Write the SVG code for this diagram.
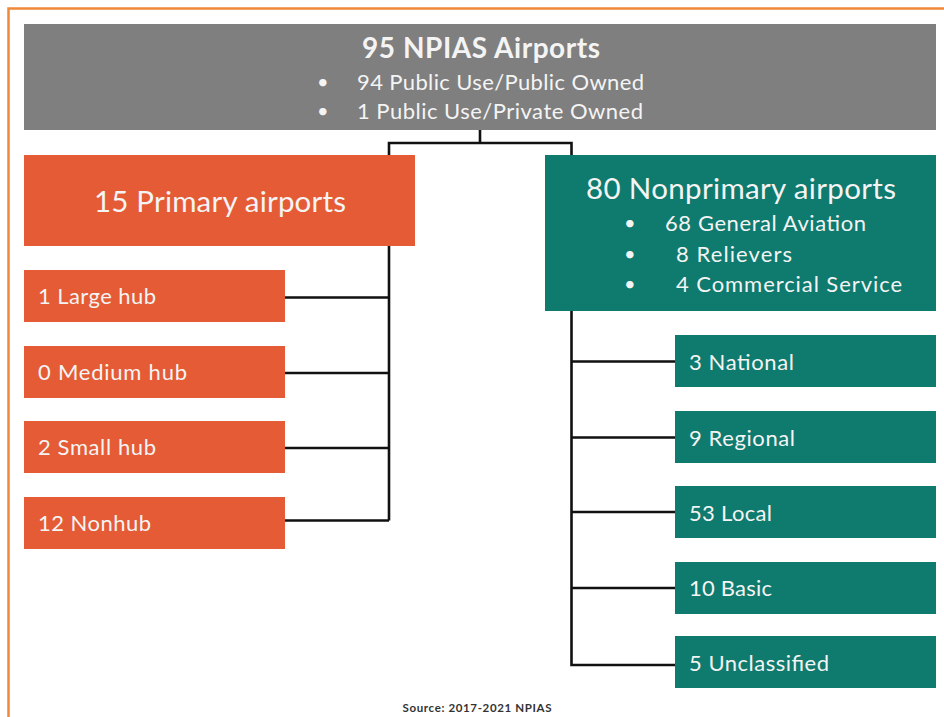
<svg xmlns="http://www.w3.org/2000/svg" width="944" height="717" viewBox="0 0 944 717">
<style>
.t{font-family:Lato,"Open Sans","Liberation Sans",sans-serif;fill:#F4F4F4}
.orange{fill:#E55B35}
.teal{fill:#0F7A6E}
.conn{fill:none;stroke:#111111;stroke-width:2.6}
</style>
<rect width="944" height="717" fill="#FFFFFF"/>
<path d="M8.5 717 V8.5 H944" fill="none" stroke="#F0883A" stroke-width="2.5"/>
<g id="connectors">
<path class="conn" d="M480 130 V143 M389 155 V143 H571.5 V155"/>
<path class="conn" d="M389 246 V520.5 M285 297.5 H389 M285 373 H389 M285 448 H389 M285 520.5 H389"/>
<path class="conn" d="M571.5 311 V665 H675 M571.5 361.5 H675 M571.5 437.5 H675 M571.5 512 H675 M571.5 588 H675"/>
</g>
<g id="npias">
<rect x="24" y="24" width="912" height="106" fill="#7F7F7F"/>
<text class="t" x="481" y="58" font-size="28" font-weight="bold" text-anchor="middle" textLength="238">95 NPIAS Airports</text>
<text class="t" x="317" y="89" font-size="20">•</text>
<text class="t" x="357" y="90" font-size="22" textLength="287">94 Public Use/Public Owned</text>
<text class="t" x="317" y="118" font-size="20">•</text>
<text class="t" x="357" y="119" font-size="22" textLength="286">1 Public Use/Private Owned</text>
</g>
<g id="primary">
<rect class="orange" x="24" y="155" width="391" height="91"/>
<text class="t" x="94" y="212" font-size="29.5" textLength="252">15 Primary airports</text>
</g>
<g id="large-hub">
<rect class="orange" x="24" y="270" width="261" height="52"/>
<text class="t" x="38" y="304" font-size="22" textLength="118">1 Large hub</text>
</g>
<g id="medium-hub">
<rect class="orange" x="24" y="346" width="261" height="52"/>
<text class="t" x="38" y="380" font-size="22" textLength="149">0 Medium hub</text>
</g>
<g id="small-hub">
<rect class="orange" x="24" y="421" width="261" height="52"/>
<text class="t" x="38" y="455" font-size="22" textLength="118">2 Small hub</text>
</g>
<g id="nonhub">
<rect class="orange" x="24" y="497" width="261" height="52"/>
<text class="t" x="38" y="531" font-size="22" textLength="113">12 Nonhub</text>
</g>
<g id="nonprimary">
<rect class="teal" x="545" y="155" width="391" height="156"/>
<text class="t" x="586" y="199" font-size="29.5" textLength="310">80 Nonprimary airports</text>
<text class="t" x="624" y="230" font-size="20">•</text>
<text class="t" x="665" y="231" font-size="22" textLength="201">68 General Aviation</text>
<text class="t" x="624" y="261" font-size="20">•</text>
<text class="t" x="676" y="262" font-size="22" textLength="116">8  Relievers</text>
<text class="t" x="624" y="291" font-size="20">•</text>
<text class="t" x="676" y="292" font-size="22" textLength="226">4  Commercial Service</text>
</g>
<g id="national">
<rect class="teal" x="675" y="335" width="261" height="52"/>
<text class="t" x="689" y="370" font-size="22" textLength="105">3 National</text>
</g>
<g id="regional">
<rect class="teal" x="675" y="411" width="261" height="52"/>
<text class="t" x="689" y="446" font-size="22" textLength="106">9 Regional</text>
</g>
<g id="local">
<rect class="teal" x="675" y="486" width="261" height="52"/>
<text class="t" x="689" y="521" font-size="22" textLength="83">53 Local</text>
</g>
<g id="basic">
<rect class="teal" x="675" y="562" width="261" height="52"/>
<text class="t" x="689" y="596" font-size="22" textLength="83">10 Basic</text>
</g>
<g id="unclassified">
<rect class="teal" x="675" y="636" width="261" height="52"/>
<text class="t" x="689" y="671" font-size="22" textLength="140">5 Unclassified</text>
</g>
<text x="477" y="712" font-family="Lato,'Liberation Sans',sans-serif" font-size="11.5" font-weight="bold" fill="#333333" text-anchor="middle" textLength="149">Source: 2017-2021 NPIAS</text>
</svg>
